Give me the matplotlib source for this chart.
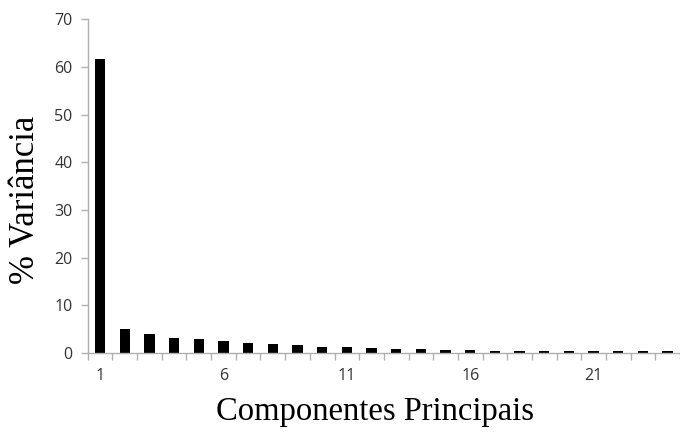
import matplotlib
matplotlib.use("Agg")
import matplotlib.pyplot as plt
import numpy as np

componentes = np.arange(1, 25)
variancia = [61.8, 5.0, 3.9, 3.1, 2.9, 2.5, 2.0, 1.8, 1.6, 1.3, 1.3, 1.05,
             0.8, 0.8, 0.6, 0.6, 0.5, 0.5, 0.5, 0.5, 0.35, 0.35, 0.35, 0.35]
xtick_labels = ["1", "6", "11", "16", "21"]

fig = plt.figure(figsize=(6.8, 4.32), dpi=100)
ax = fig.add_axes([0.129, 0.183, 0.871, 0.772])

ax.bar(componentes, variancia, width=0.42, color="black")

ax.set_xlim(0.5, 24.5)
ax.set_ylim(0, 70)
ax.set_yticks(range(0, 71, 10))

# category labels every 5, tick marks on category boundaries (Excel style)
ax.set_xticks([1, 6, 11, 16, 21])
ax.set_xticklabels(xtick_labels)
ax.set_xticks(np.arange(0.5, 25, 1), minor=True)
ax.tick_params(axis="x", which="major", length=0, pad=11)
ax.tick_params(axis="x", which="minor", length=5, color="#b0b0b0", width=1)
ax.tick_params(axis="y", length=5, color="#b0b0b0", width=1, pad=6)

for lab in ax.get_xticklabels() + ax.get_yticklabels():
    lab.set_family("Open Sans")
    lab.set_fontsize(11.5)
    lab.set_color("#333333")

for side in ["top", "right"]:
    ax.spines[side].set_visible(False)
for side in ["left", "bottom"]:
    ax.spines[side].set_color("#b0b0b0")
    ax.spines[side].set_linewidth(1)

ax.set_xlabel("Componentes Principais", family="Liberation Serif", fontsize=23.5)
ax.set_ylabel("% Variância", family="Liberation Serif", fontsize=25)
ax.xaxis.set_label_coords(0.485, -0.13)
ax.yaxis.set_label_coords(-0.078, 0.46)

fig.savefig("out.png", dpi=100)
